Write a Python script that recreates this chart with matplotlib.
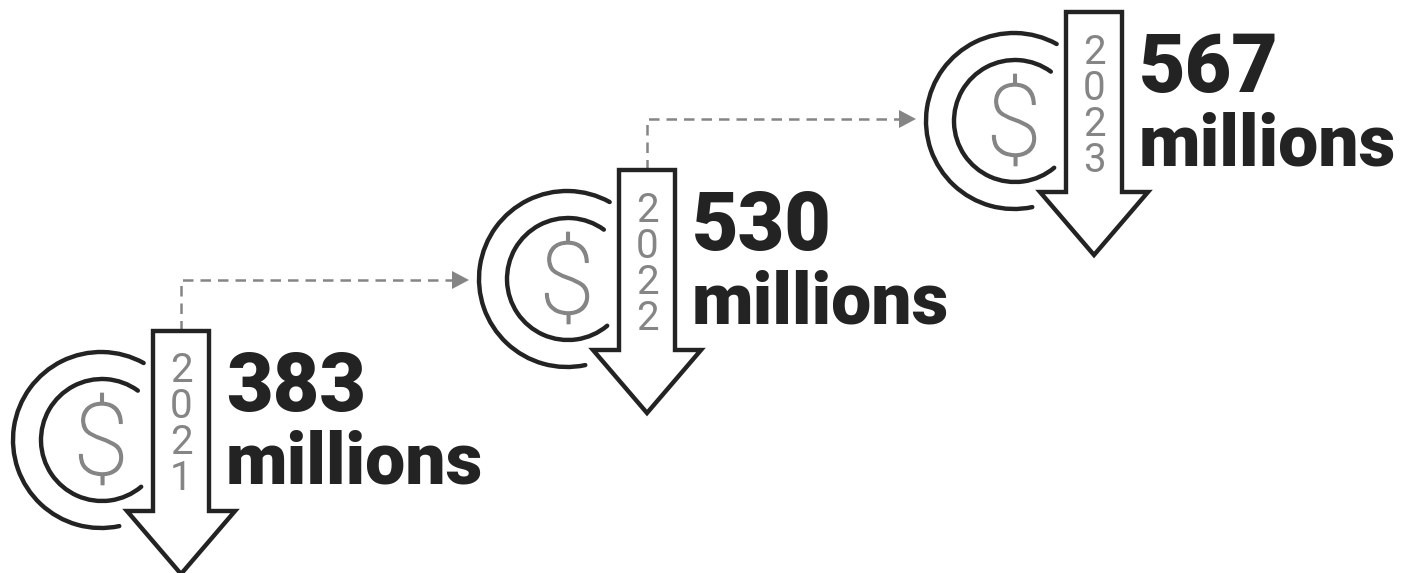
import matplotlib
matplotlib.use("Agg")
from matplotlib import pyplot as plt
from matplotlib import patheffects
from matplotlib.patches import Arc, Polygon

years = ["2021", "2022", "2023"]
amounts = [383, 530, 567]
unit = "millions"

# arrow centre and top edge of each icon, in pixels
arrow_x = [181, 647, 1094]
arrow_top = [331, 170, 12]

ink = "#232323"
grey = "#858585"
line_px = 0.72  # points per pixel at dpi 100

fig = plt.figure(figsize=(14.11, 5.73), dpi=100)
ax = fig.add_axes([0, 0, 1, 1])
ax.set_xlim(0, 1411)
ax.set_ylim(573, 0)
ax.axis("off")


def draw_icon(x, top, year, amount):
    cx, cy = x - 80, top + 109
    ax.add_patch(Arc((cx, cy), 176, 176, theta1=78, theta2=299, color=ink,
                     lw=4.4 * line_px, capstyle="round"))
    ax.add_patch(Arc((cx + 1, cy), 122, 122, theta1=50, theta2=306, color=ink,
                     lw=4.4 * line_px, capstyle="round"))
    dollar = ax.text(cx, cy + 7, "$", color=grey, fontsize=72, family="Roboto",
                     fontweight="light", ha="center", va="center")
    # light weight is a little thin on its own, thicken the stroke
    dollar.set_path_effects([patheffects.withStroke(linewidth=1.0, foreground=grey)])

    outline = [(x - 28, top), (x + 28, top), (x + 28, top + 180),
               (x + 54, top + 180), (x, top + 243), (x - 54, top + 180),
               (x - 28, top + 180)]
    ax.add_patch(Polygon(outline, closed=True, fc="white", ec=ink,
                         lw=4.4 * line_px, joinstyle="miter", zorder=3))

    for i, ch in enumerate(year):
        ax.text(x, top + 40 + i * 36, ch, color=grey, fontsize=29,
                family="Roboto", fontweight="normal", ha="center",
                va="center", zorder=4)

    ax.text(x + 45, top + 80, str(amount), color=ink, fontsize=58,
            family="Roboto", fontweight="black", ha="left",
            va="baseline", zorder=4)
    ax.text(x + 45, top + 153, unit, color=ink, fontsize=51.5,
            family="Roboto", fontweight="black", ha="left",
            va="baseline", zorder=4)


def draw_link(x0, top0, x1, cx_offset=-80):
    # dashed elbow from one arrow top across to the next ring
    rise = top0 - 51
    end = x1 + cx_offset - 89 - 9
    ax.plot([x0, x0, end - 14], [top0, rise, rise], color=grey, lw=1.8,
            dashes=(4.2, 2.8), zorder=1)
    ax.add_patch(Polygon([(end - 17, rise - 9), (end, rise), (end - 17, rise + 9)],
                         closed=True, fc=grey, ec="none", zorder=1))


for i in range(len(years) - 1):
    draw_link(arrow_x[i], arrow_top[i], arrow_x[i + 1])

for x, top, year, amount in zip(arrow_x, arrow_top, years, amounts):
    draw_icon(x, top, year, amount)

fig.savefig("out.png", dpi=100, facecolor="white")
